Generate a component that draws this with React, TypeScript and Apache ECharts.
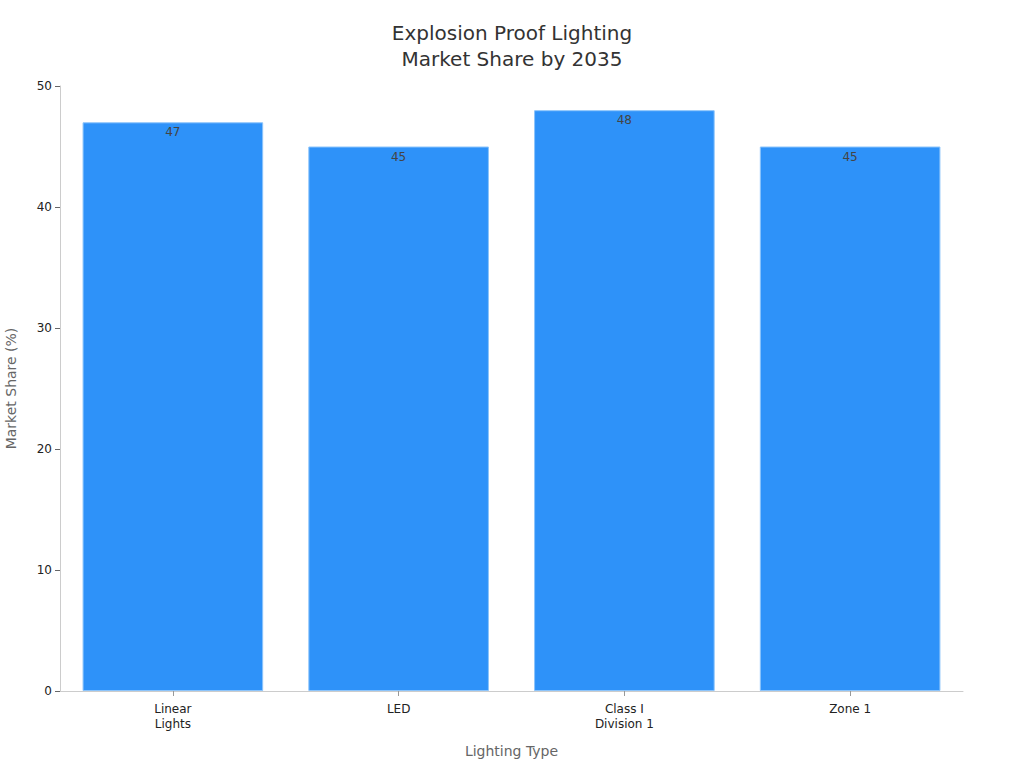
import React, { useEffect, useRef } from "react";
import * as echarts from "echarts";

const categories = ["Linear\nLights", "LED", "Class I\nDivision 1", "Zone 1"];
const shares = [47, 45, 48, 45];
const yTicks = [0, 10, 20, 30, 40, 50];

export default function App() {
  const ref = useRef<HTMLDivElement>(null);
  useEffect(() => {
    if (!ref.current) return;
    const chart = echarts.init(ref.current, undefined, { renderer: "svg" });
    chart.setOption({
      animation: false,
      textStyle: { fontFamily: "DejaVu Sans" },
      title: {
        text: "Explosion Proof Lighting\nMarket Share by 2035",
        left: "center",
        top: 15,
        textStyle: { fontFamily: "DejaVu Sans", fontSize: 20, fontWeight: "normal", color: "#333", lineHeight: 26 },
      },
      grid: { left: 60, right: 61, top: 86, bottom: 77, containLabel: false, outerBoundsMode: "none" },
      xAxis: {
        type: "category",
        data: categories,
        name: "Lighting Type",
        nameLocation: "middle",
        nameGap: 53,
        nameTextStyle: { fontSize: 14, color: "#666", fontFamily: "DejaVu Sans" },
        axisLine: { show: true, lineStyle: { color: "#ccc" } },
        axisTick: { show: true, alignWithLabel: true, lineStyle: { color: "#999" } },
        axisLabel: { fontSize: 12, color: "#222", lineHeight: 15, margin: 10, fontFamily: "DejaVu Sans" },
      },
      yAxis: {
        type: "value",
        min: yTicks[0],
        max: yTicks[yTicks.length - 1],
        interval: 10,
        name: "Market Share (%)",
        nameLocation: "middle",
        nameGap: 42,
        nameTextStyle: { fontSize: 14, color: "#666", fontFamily: "DejaVu Sans" },
        axisLine: { show: true, lineStyle: { color: "#ccc" } },
        axisTick: { show: true, lineStyle: { color: "#666" } },
        axisLabel: { fontSize: 12, color: "#222", margin: 8, fontFamily: "DejaVu Sans" },
        splitLine: { show: false },
      },
      series: [
        {
          type: "bar",
          data: shares,
          barCategoryGap: "20%",
          itemStyle: { color: "#2e92f9", borderColor: "#8cc4fb", borderWidth: 1 },
          label: {
            show: true,
            position: "insideTop",
            distance: 4,
            fontSize: 12,
            color: "#444",
            fontFamily: "DejaVu Sans",
          },
        },
      ],
    });
    return () => chart.dispose();
  }, []);
  return <div ref={ref} style={{ position: "absolute", left: 0, top: 0, width: 1024, height: 768 }} />;
}
